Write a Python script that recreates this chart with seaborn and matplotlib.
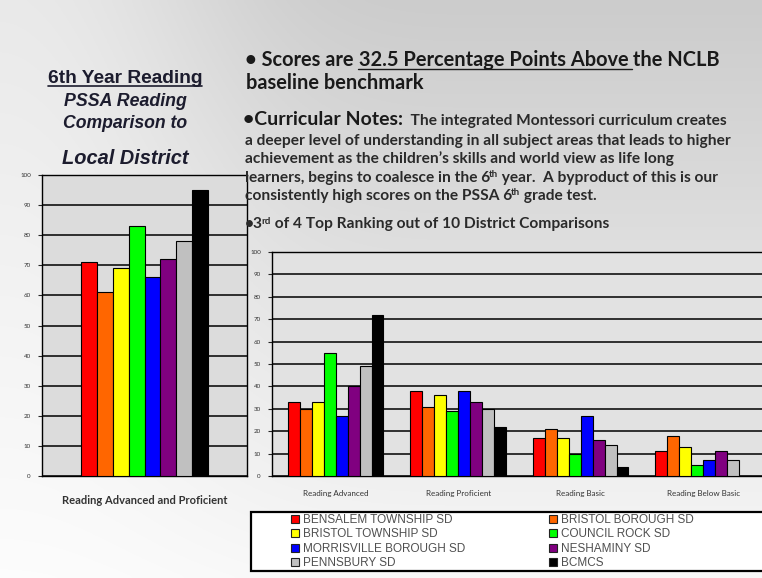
import numpy as np
import pandas as pd
import matplotlib.pyplot as plt
import seaborn as sns
from matplotlib.patches import Patch, Rectangle
from matplotlib.lines import Line2D

# data
districts = ['BENSALEM TOWNSHIP SD', 'BRISTOL BOROUGH SD', 'BRISTOL TOWNSHIP SD',
             'COUNCIL ROCK SD', 'MORRISVILLE BOROUGH SD', 'NESHAMINY SD',
             'PENNSBURY SD', 'BCMCS']
colors = ['#ff0000', '#ff6600', '#ffff00', '#00ff00', '#0000ff', '#800080', '#c0c0c0', '#000000']

combined_label = 'Reading Advanced and Proficient'
combined_values = [71, 61, 69, 83, 66, 72, 78, 95]

levels = ['Reading Advanced', 'Reading Proficient', 'Reading Basic', 'Reading Below Basic']
advanced = [33, 30, 33, 55, 27, 40, 49, 72]
proficient = [38, 31, 36, 29, 38, 33, 30, 22]
basic = [17, 21, 17, 10, 27, 16, 14, 4]
below_basic = [11, 18, 13, 5, 7, 11, 7, 0]

left_title = ['6th Year Reading', 'PSSA Reading', 'Comparison to', 'Local District']
# each note line is a list of (text, is_superscript) pieces
notes_lines = [
    [('a deeper level of understanding in all subject areas that leads to higher', False)],
    [('achievement as the children\u2019s skills and world view as life long', False)],
    [('learners, begins to coalesce in the 6', False), ('th', True),
     (' year.  A byproduct of this is our', False)],
    [('consistently high scores on the PSSA 6', False), ('th', True), (' grade test.', False)],
]
ranking_line = [('\u20223', False), ('rd', True), (' of 4 Top Ranking out of 10 District Comparisons', False)]

W, H = 762, 578

sns.set_style('white')
plt.rcParams['font.family'] = ['Lato', 'DejaVu Sans']


def fx(px):
    return px / W


def fy(py):
    return 1 - py / H


fig = plt.figure(figsize=(W / 100, H / 100), dpi=100)
renderer = fig.canvas.get_renderer()

# slide background: grey gradient, lighter towards the bottom
ax_bg = fig.add_axes([0, 0, 1, 1], zorder=-10)
grad = np.linspace(0.80, 0.97, 200)[:, None] * np.ones((1, 4))
grad[:, 0] = np.linspace(0.92, 0.99, 200)
ax_bg.imshow(np.dstack([grad] * 3), aspect='auto', extent=[0, 1, 0, 1], interpolation='bicubic')
ax_bg.set_axis_off()

# left chart: combined advanced + proficient
df_left = pd.DataFrame({'level': combined_label, 'district': districts, 'value': combined_values})
ax1 = fig.add_axes([fx(42), fy(476), fx(205), 301 / H])
ax1.set_facecolor('#dcdcdc')
sns.barplot(data=df_left, x='level', y='value', hue='district', hue_order=districts,
            palette=colors, saturation=1, width=0.62, edgecolor='black', linewidth=0.8,
            legend=False, ax=ax1, zorder=3)
ax1.set_ylim(0, 100)
ax1.set_xlim(-0.5, 0.5)
ax1.set_yticks(range(0, 101, 10))
ax1.tick_params(axis='y', labelsize=4.5, labelcolor='#333333', length=3, width=0.8,
                direction='out', left=True, pad=5)
ax1.tick_params(axis='x', labelsize=8, length=0, pad=14)
ax1.set_xticks([0])
ax1.set_xticklabels([combined_label], fontweight='bold', color='#333333')
ax1.set_xlabel('')
ax1.set_ylabel('')
ax1.grid(axis='y', color='black', linewidth=1.1, zorder=1)
for s in ax1.spines.values():
    s.set_color('black')
    s.set_linewidth(1.0)

# right chart: four performance levels
df_right = pd.DataFrame({
    'level': np.repeat(levels, len(districts)),
    'district': districts * len(levels),
    'value': advanced + proficient + basic + below_basic,
})
ax2 = fig.add_axes([fx(272), fy(476), fx(490), 224 / H])
ax2.set_facecolor('#e2e2e2')
sns.barplot(data=df_right, x='level', y='value', hue='district', hue_order=districts,
            order=levels, palette=colors, saturation=1, width=0.78, edgecolor='black',
            linewidth=0.8, legend=False, ax=ax2, zorder=3)
ax2.set_ylim(0, 100)
ax2.set_xlim(-0.52, 3.48)
ax2.set_yticks(range(0, 101, 10))
ax2.tick_params(axis='y', labelsize=4.5, labelcolor='#333333', length=3, width=0.8,
                direction='out', left=True, pad=5)
ax2.tick_params(axis='x', labelsize=5.8, labelcolor='#333333', length=0, pad=10)
ax2.set_xlabel('')
ax2.set_ylabel('')
ax2.grid(axis='y', color='black', linewidth=1.1, zorder=1)
ax2.spines['right'].set_visible(False)
for s in ['left', 'bottom', 'top']:
    ax2.spines[s].set_color('black')
    ax2.spines[s].set_linewidth(1.0)

# legend box below the right chart, two columns filled row by row
fig.add_artist(Rectangle((fx(251), fy(571)), fx(520), 59 / H, transform=fig.transFigure,
                         facecolor='white', edgecolor='black', linewidth=1.6, zorder=2))
handles = [Patch(facecolor=c, edgecolor='#222222', linewidth=0.8) for c in colors]
for col, x0 in [(0, 291), (1, 549)]:
    idx = [col, col + 2, col + 4, col + 6]
    leg = fig.legend([handles[i] for i in idx], [districts[i] for i in idx],
                     loc='upper left', bbox_to_anchor=(fx(x0), fy(514)), frameon=False,
                     handlelength=0.65, handleheight=0.65, handletextpad=0.35,
                     labelspacing=0.2, borderpad=0, borderaxespad=0, labelcolor='#505050',
                     prop={'family': 'Liberation Sans', 'size': 8.5})
    leg.set_zorder(3)


def fit(t, target):
    # scale a text's size so its rendered width matches the width measured on the slide
    w = t.get_window_extent(renderer).width
    t.set_fontsize(t.get_fontsize() * target / w)
    return t


def hline(x0_px, x1_px, y_px, lw, color):
    fig.add_artist(Line2D([fx(x0_px), fx(x1_px)], [fy(y_px), fy(y_px)],
                          transform=fig.transFigure, color=color, linewidth=lw))


# left title block
title_y = [78, 101, 124, 158]
title_w = [154, 122, 124, 126]
title_styles = ['normal', 'italic', 'italic', 'italic']
for i, (txt, yy, ww, st) in enumerate(zip(left_title, title_y, title_w, title_styles)):
    t = fig.text(fx(125), fy(yy), txt, ha='center', va='center', fontsize=13,
                 fontweight='bold', style=st, color='#1c1c2e',
                 family=['Liberation Sans', 'DejaVu Sans'])
    fit(t, ww)
    if i == 0:
        bb = t.get_window_extent(renderer)
        hline(bb.x0, bb.x1, H - bb.y0 - 0.5, 1.2, '#1c1c2e')


def inline(pieces, x_px, y_px):
    # place text pieces one after another on a common baseline, returns start x of each piece
    starts = []
    for txt, kw, dy in pieces:
        if dy:
            x_px -= 1.5  # tuck superscripts against the preceding glyph
        starts.append(x_px)
        t = fig.text(fx(x_px), fy(y_px - dy), txt, va='baseline', ha='left', **kw)
        x_px = t.get_window_extent(renderer).x1
    starts.append(x_px)
    return starts


big = dict(fontsize=14.4, fontweight='bold', color='#1a1a1a')
starts = inline([('\u2022 Scores are', big, 0),
                 (' 32.5 Percentage Points Above', big, 0),
                 (' the NCLB', big, 0)], 245, 66)
hline(starts[1] + 4, starts[2] + 4, 68.5, 1.0, '#1a1a1a')
fig.text(fx(246), fy(89), 'baseline benchmark', va='baseline', **big)

small = dict(fontsize=11.2, fontweight='bold', color='#2a2a2a')
sup = dict(fontsize=7, fontweight='bold', color='#2a2a2a')


def note_line(parts, x_px, y_px):
    inline([(txt, sup if is_sup else small, 4.5 if is_sup else 0) for txt, is_sup in parts],
           x_px, y_px)


inline([('\u2022Curricular Notes:', dict(fontsize=14, fontweight='bold', color='#1a1a1a'), 0),
        ('  The integrated Montessori curriculum creates', small, 0)], 243, 125)
for i, parts in enumerate(notes_lines):
    note_line(parts, 245, 145 + i * 18.3)
note_line(ranking_line, 245, 228)

fig.savefig('out.png', dpi=100)
